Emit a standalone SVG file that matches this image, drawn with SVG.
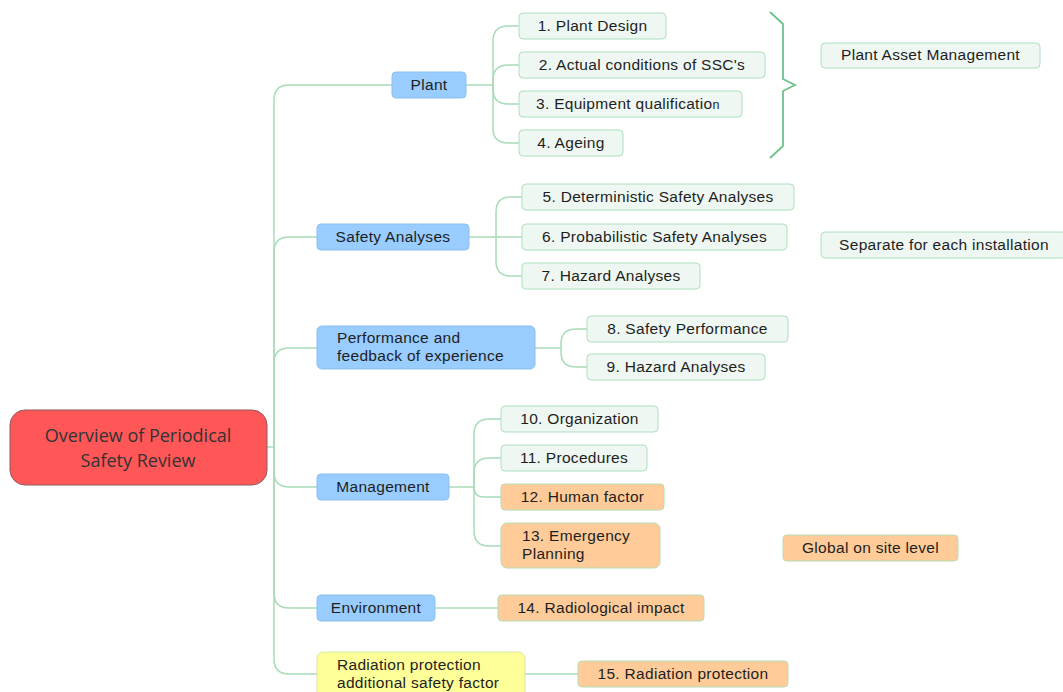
<svg xmlns="http://www.w3.org/2000/svg" width="1063" height="692" viewBox="0 0 1063 692">
<style>
.c{fill:none;stroke:#a8dcb8;stroke-width:1.5}
.br{fill:none;stroke:#6cc38a;stroke-width:1.8}
.blue{fill:#99ccff;stroke:#8cc0ee;stroke-width:1}
.leaf{fill:#eef7f1;stroke:#ace0bd;stroke-width:1}
.org{fill:#ffcc99;stroke:#b4ddb4;stroke-width:1}
.yel{fill:#ffff99;stroke:#d8e8a0;stroke-width:1}
.root{fill:#ff5757;stroke:#8f5a5a;stroke-width:1}
text{font-family:"Liberation Sans",Arial,sans-serif;font-size:15.5px;fill:#1e1e1e;letter-spacing:0.3px}
.m{text-anchor:middle}
.rt{font-family:"Open Sans","Noto Sans",sans-serif;font-size:18px;fill:#333;text-anchor:middle;letter-spacing:0}
</style>
<rect width="1063" height="692" fill="#fff"/>
<g id="connectors">
<path class="c" d="M267,447 H274"/>
<path class="c" d="M274,447 V100 Q274,85 289,85 H392"/>
<path class="c" d="M274,447 V252 Q274,237 289,237 H317"/>
<path class="c" d="M274,447 V363 Q274,348 289,348 H317"/>
<path class="c" d="M274,447 V472 Q274,487 289,487 H317"/>
<path class="c" d="M274,447 V593 Q274,608 289,608 H317"/>
<path class="c" d="M274,447 V659 Q274,674 289,674 H317"/>
<path class="c" d="M466,85 H493"/>
<path class="c" d="M493,85 V41 Q493,26 508,26 H519"/>
<path class="c" d="M493,85 V80 Q493,65 508,65 H519"/>
<path class="c" d="M493,85 V89 Q493,104 508,104 H519"/>
<path class="c" d="M493,85 V128 Q493,143 508,143 H519"/>
<path class="c" d="M469,237 H522"/>
<path class="c" d="M496,237 V212 Q496,197 511,197 H522"/>
<path class="c" d="M496,237 V261 Q496,276 511,276 H522"/>
<path class="c" d="M535,348 H561"/>
<path class="c" d="M561,348 V344 Q561,329 576,329 H587"/>
<path class="c" d="M561,348 V352 Q561,367 576,367 H587"/>
<path class="c" d="M449,487 H474"/>
<path class="c" d="M474,487 V434 Q474,419 489,419 H501"/>
<path class="c" d="M474,487 V473 Q474,458 489,458 H501"/>
<path class="c" d="M474,487 Q474,497 484,497 H501"/>
<path class="c" d="M474,487 V531 Q474,546 489,546 H501"/>
<path class="c" d="M435,608 H498"/>
<path class="c" d="M525,674 H578"/>
<path class="br" d="M770,12 L783,24 V79 L795,85 L783,91 V146 L770,158"/>
</g>
<g id="root"><rect class="root" x="10" y="410" width="257" height="75" rx="15"/><text class="rt" x="138" y="442">Overview of Periodical</text><text class="rt" x="138" y="467">Safety Review</text></g>
<g id="plant"><rect class="blue" x="392" y="72" width="74" height="26" rx="4"/><text class="m" x="429" y="90">Plant</text></g>
<g id="n1"><rect class="leaf" x="519" y="13" width="147" height="26" rx="4"/><text class="m" x="592.5" y="31">1. Plant Design</text></g>
<g id="n2"><rect class="leaf" x="519" y="52" width="246" height="26" rx="4"/><text class="m" x="642" y="70">2. Actual conditions of SSC's</text></g>
<g id="n3"><rect class="leaf" x="519" y="91" width="223" height="26" rx="4"/><text x="536" y="109">3. Equipment qualificatio<tspan font-size="12.5px">n</tspan></text></g>
<g id="n4"><rect class="leaf" x="519" y="130" width="104" height="26" rx="4"/><text class="m" x="571" y="148">4. Ageing</text></g>
<g id="pam"><rect class="leaf" x="821" y="43" width="219" height="25" rx="4"/><text class="m" x="930.5" y="60">Plant Asset Management</text></g>
<g id="safety"><rect class="blue" x="317" y="224" width="152" height="26" rx="4"/><text class="m" x="393" y="242">Safety Analyses</text></g>
<g id="n5"><rect class="leaf" x="522" y="184" width="272" height="26" rx="4"/><text class="m" x="658" y="202">5. Deterministic Safety Analyses</text></g>
<g id="n6"><rect class="leaf" x="522" y="224" width="265" height="26" rx="4"/><text class="m" x="654.5" y="242">6. Probabilistic Safety Analyses</text></g>
<g id="n7"><rect class="leaf" x="522" y="263" width="178" height="26" rx="4"/><text class="m" x="611" y="281">7. Hazard Analyses</text></g>
<g id="sep"><rect class="leaf" x="821" y="232" width="245" height="26" rx="4"/><text class="m" x="944" y="250">Separate for each installation</text></g>
<g id="perf"><rect class="blue" x="317" y="326" width="218" height="43" rx="5"/><text x="337" y="343">Performance and</text><text x="337" y="361">feedback of experience</text></g>
<g id="n8"><rect class="leaf" x="587" y="316" width="201" height="26" rx="4"/><text class="m" x="687.5" y="334">8. Safety Performance</text></g>
<g id="n9"><rect class="leaf" x="587" y="354" width="178" height="26" rx="4"/><text class="m" x="676" y="372">9. Hazard Analyses</text></g>
<g id="mgmt"><rect class="blue" x="317" y="474" width="132" height="26" rx="4"/><text class="m" x="383" y="492">Management</text></g>
<g id="n10"><rect class="leaf" x="501" y="406" width="157" height="26" rx="4"/><text class="m" x="579.5" y="424">10. Organization</text></g>
<g id="n11"><rect class="leaf" x="501" y="445" width="146" height="26" rx="4"/><text class="m" x="574" y="463">11. Procedures</text></g>
<g id="n12"><rect class="org" x="501" y="484" width="163" height="26" rx="4"/><text class="m" x="582.5" y="502">12. Human factor</text></g>
<g id="n13"><rect class="org" x="501" y="523" width="159" height="45" rx="6"/><text x="522" y="541">13. Emergency</text><text x="522" y="559">Planning</text></g>
<g id="global"><rect class="org" x="783" y="535" width="175" height="26" rx="4"/><text class="m" x="870.5" y="553">Global on site level</text></g>
<g id="env"><rect class="blue" x="317" y="595" width="118" height="26" rx="4"/><text class="m" x="376" y="613">Environment</text></g>
<g id="n14"><rect class="org" x="498" y="595" width="206" height="26" rx="4"/><text class="m" x="601" y="613">14. Radiological impact</text></g>
<g id="rad"><rect class="yel" x="317" y="652" width="208" height="50" rx="6"/><text x="337" y="670">Radiation protection</text><text x="337" y="688">additional safety factor</text></g>
<g id="n15"><rect class="org" x="578" y="661" width="210" height="26" rx="4"/><text class="m" x="683" y="679">15. Radiation protection</text></g>
</svg>
